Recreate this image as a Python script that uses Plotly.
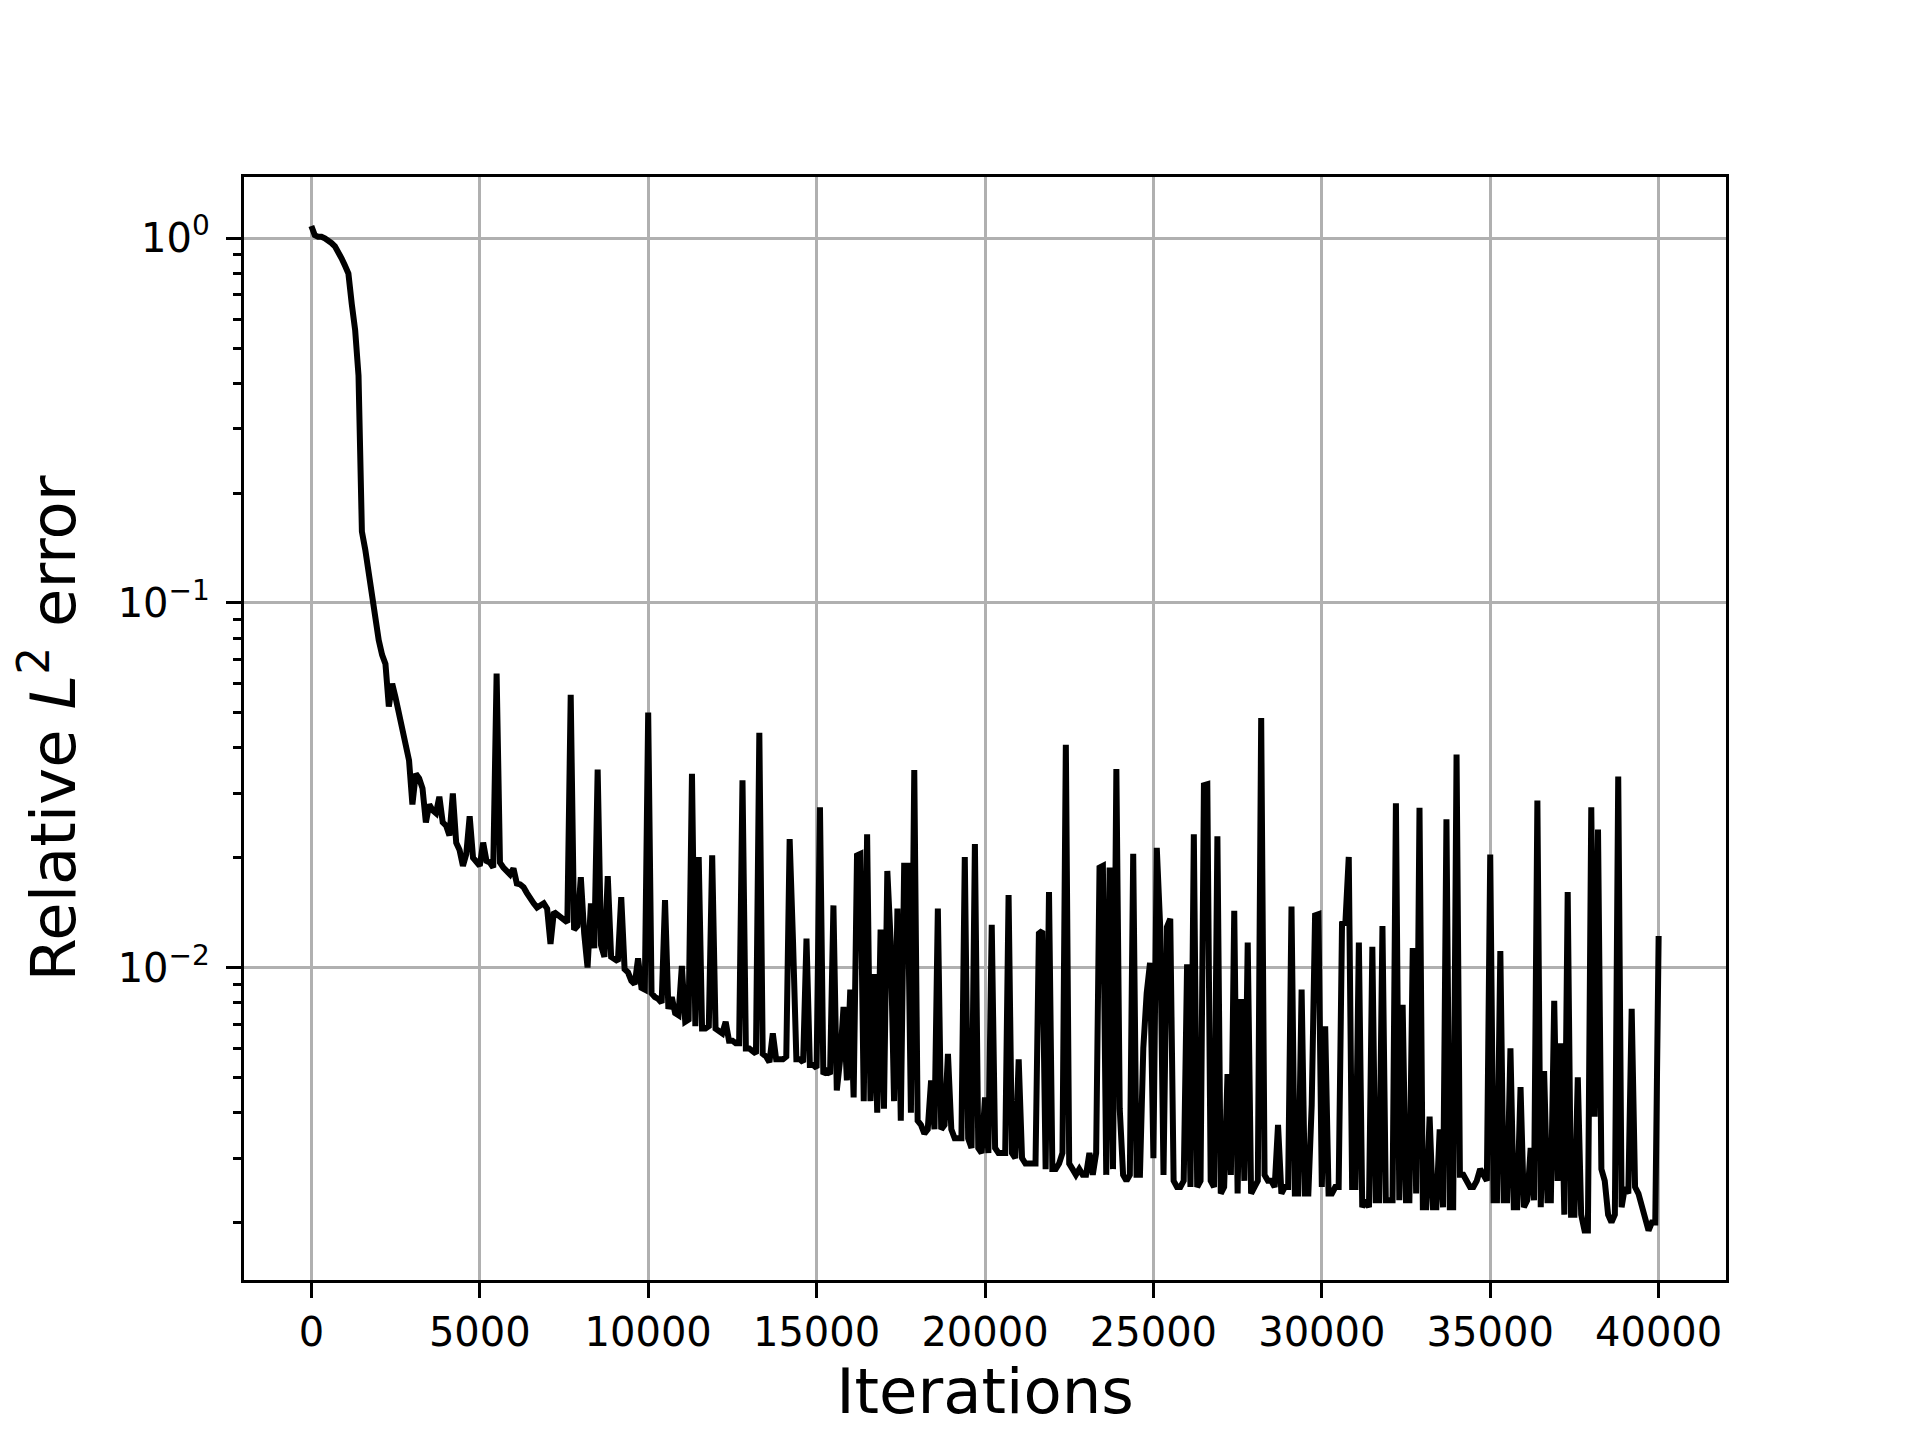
import plotly.graph_objects as go

# Sampled every 100 iterations, 0 .. 40000
iterations = list(range(0, 40001, 100))

rel_l2_error = [
    1.08, 1.02, 1.01, 1.01, 1.00, 0.99, 0.97, 0.95, 0.92, 0.88,
    0.84, 0.80, 0.66, 0.56, 0.42, 0.157, 0.14, 0.12, 0.104, 0.09,
    0.079, 0.072, 0.068, 0.052, 0.060, 0.055, 0.050, 0.046, 0.042, 0.037,
    0.028, 0.034, 0.033, 0.031, 0.025, 0.028, 0.027, 0.0265, 0.0294, 0.025,
    0.0245, 0.023, 0.030, 0.022, 0.021, 0.019, 0.0205, 0.026, 0.020, 0.0195,
    0.019, 0.022, 0.0196, 0.0194, 0.0188, 0.064, 0.0194, 0.0188, 0.0183, 0.018,
    0.0187, 0.017, 0.0169, 0.0166, 0.016, 0.0154, 0.015, 0.0146, 0.0148, 0.015,
    0.0145, 0.0116, 0.0142, 0.014, 0.0138, 0.0136, 0.0133, 0.056, 0.0127, 0.013,
    0.0177, 0.0124, 0.0100, 0.015, 0.0113, 0.0349, 0.0115, 0.0107, 0.0178, 0.0107,
    0.0106, 0.0104, 0.0156, 0.0099, 0.0097, 0.0092, 0.0090, 0.0106, 0.0088, 0.0087,
    0.050, 0.0085, 0.0083, 0.0082, 0.0080, 0.0153, 0.0077, 0.0083, 0.0075, 0.0074,
    0.0101, 0.0071, 0.0072, 0.034, 0.0069, 0.0201, 0.0068, 0.0068, 0.0069, 0.0203,
    0.0068, 0.0067, 0.0066, 0.0071, 0.0063, 0.0063, 0.0062, 0.0062, 0.0326, 0.0060,
    0.0060, 0.0059, 0.0058, 0.044, 0.0058, 0.0057, 0.0055, 0.0066, 0.0056, 0.0056,
    0.0056, 0.0057, 0.0225, 0.0118, 0.0056, 0.0056, 0.0055, 0.0120, 0.0054, 0.0054,
    0.0053, 0.0275, 0.0051, 0.0052, 0.0051, 0.0148, 0.0046, 0.0056, 0.0078, 0.0049,
    0.0087, 0.0044, 0.0203, 0.0205, 0.0043, 0.0232, 0.0043, 0.0096, 0.0040, 0.0127,
    0.0041, 0.0184, 0.0118, 0.0043, 0.0145, 0.0038, 0.0190, 0.0190, 0.0040, 0.0348,
    0.0038, 0.0037, 0.0035, 0.0036, 0.0049, 0.0036, 0.0145, 0.0036, 0.0037, 0.0058,
    0.0036, 0.0034, 0.0034, 0.0034, 0.0201, 0.0034, 0.0032, 0.0218, 0.0032, 0.0031,
    0.0044, 0.0031, 0.0131, 0.0032, 0.0031, 0.0031, 0.0031, 0.0158, 0.0031, 0.0030,
    0.0056, 0.0030, 0.0029, 0.0029, 0.0029, 0.0029, 0.0124, 0.0126, 0.0028, 0.0161,
    0.0028, 0.0028, 0.0029, 0.0031, 0.0408, 0.0029, 0.0028, 0.0027, 0.0028, 0.0027,
    0.0027, 0.0031, 0.0027, 0.0031, 0.0188, 0.0190, 0.0027, 0.0188, 0.0028, 0.0350,
    0.0041, 0.0027, 0.0026, 0.0027, 0.0205, 0.0027, 0.0027, 0.0060, 0.0085, 0.0103,
    0.0030, 0.0213, 0.0130, 0.0027, 0.0129, 0.0136, 0.0026, 0.0025, 0.0025, 0.0026,
    0.0102, 0.0025, 0.0232, 0.0025, 0.0026, 0.0316, 0.0318, 0.0026, 0.0025, 0.0229,
    0.0024, 0.0025, 0.0051, 0.0027, 0.0143, 0.0024, 0.0082, 0.0026, 0.0117, 0.0024,
    0.0025, 0.0026, 0.0483, 0.0027, 0.0026, 0.0026, 0.0025, 0.0037, 0.0024, 0.0025,
    0.0025, 0.0147, 0.0024, 0.0024, 0.0087, 0.0024, 0.0024, 0.0042, 0.0139, 0.0140,
    0.0025, 0.0069, 0.0024, 0.0024, 0.0025, 0.0025, 0.0132, 0.0133, 0.0201, 0.0025,
    0.0025, 0.0117, 0.0022, 0.0023, 0.0022, 0.0114, 0.0023, 0.0023, 0.0130, 0.0023,
    0.0023, 0.0023, 0.0282, 0.0023, 0.0079, 0.0023, 0.0023, 0.0113, 0.0024, 0.0274,
    0.0022, 0.0022, 0.0039, 0.0022, 0.0022, 0.0036, 0.0022, 0.0255, 0.0022, 0.0022,
    0.0384, 0.0027, 0.0027, 0.0026, 0.0025, 0.0025, 0.0026, 0.0028, 0.0027, 0.0026,
    0.0204, 0.0023, 0.0023, 0.0111, 0.0023, 0.0023, 0.0060, 0.0022, 0.0022, 0.0047,
    0.0022, 0.0023, 0.0032, 0.0023, 0.0287, 0.0022, 0.0052, 0.0023, 0.0023, 0.0081,
    0.0026, 0.0062, 0.0021, 0.0161, 0.0021, 0.0021, 0.0050, 0.0021, 0.0019, 0.0019,
    0.0275, 0.0039, 0.0239, 0.0028, 0.0026, 0.0021, 0.0020, 0.0021, 0.0334, 0.0022,
    0.0025, 0.0024, 0.0077, 0.0025, 0.0024, 0.0022, 0.0020, 0.0019, 0.0020, 0.0020,
    0.0122,
]

x_tick_vals = [0, 5000, 10000, 15000, 20000, 25000, 30000, 35000, 40000]
x_tick_text = ["0", "5000", "10000", "15000", "20000", "25000", "30000", "35000", "40000"]
y_tick_vals = [0.01, 0.1, 1.0]
y_tick_text = ["10<sup>\u22122</sup>", "10<sup>\u22121</sup>", "10<sup>0</sup>"]
y_minor_vals = [m * d for d in (0.001, 0.01, 0.1) for m in range(2, 10)]

FONT = "DejaVu Sans"

fig = go.Figure()
fig.add_trace(go.Scatter(
    x=iterations, y=rel_l2_error, mode="lines",
    line=dict(color="black", width=6), showlegend=False,
))

axis_common = dict(
    showline=True, linecolor="black", linewidth=3.3, mirror=True,
    showgrid=True, gridcolor="#b0b0b0", gridwidth=3.3,
    ticks="outside", ticklen=15, tickwidth=3.3, tickcolor="black",
    tickfont=dict(family=FONT, size=40, color="black"),
    zeroline=False, automargin=False,
)

fig.update_xaxes(
    **axis_common,
    range=[-2000, 42000],
    tickmode="array", tickvals=x_tick_vals, ticktext=x_tick_text,
    title=dict(text="Iterations", font=dict(family=FONT, size=62.5, color="black"), standoff=16),
)
fig.update_yaxes(
    **axis_common,
    type="log", range=[-2.857, 0.168],
    tickmode="array", tickvals=y_tick_vals, ticktext=y_tick_text,
    ticklabelstandoff=8,
    minor=dict(tickmode="array", tickvals=y_minor_vals, ticks="outside", ticklen=8,
               tickwidth=2.5, tickcolor="black", showgrid=False),
    title=dict(text="Relative <i>L</i><sup>2</sup> error",
               font=dict(family=FONT, size=62.5, color="black"), standoff=30),
)

fig.update_layout(
    width=1919, height=1441,
    margin=dict(l=236, r=201, t=169, b=169, pad=0),
    paper_bgcolor="white", plot_bgcolor="white",
    font=dict(family=FONT, color="black"),
)

fig.write_html("out.html")
